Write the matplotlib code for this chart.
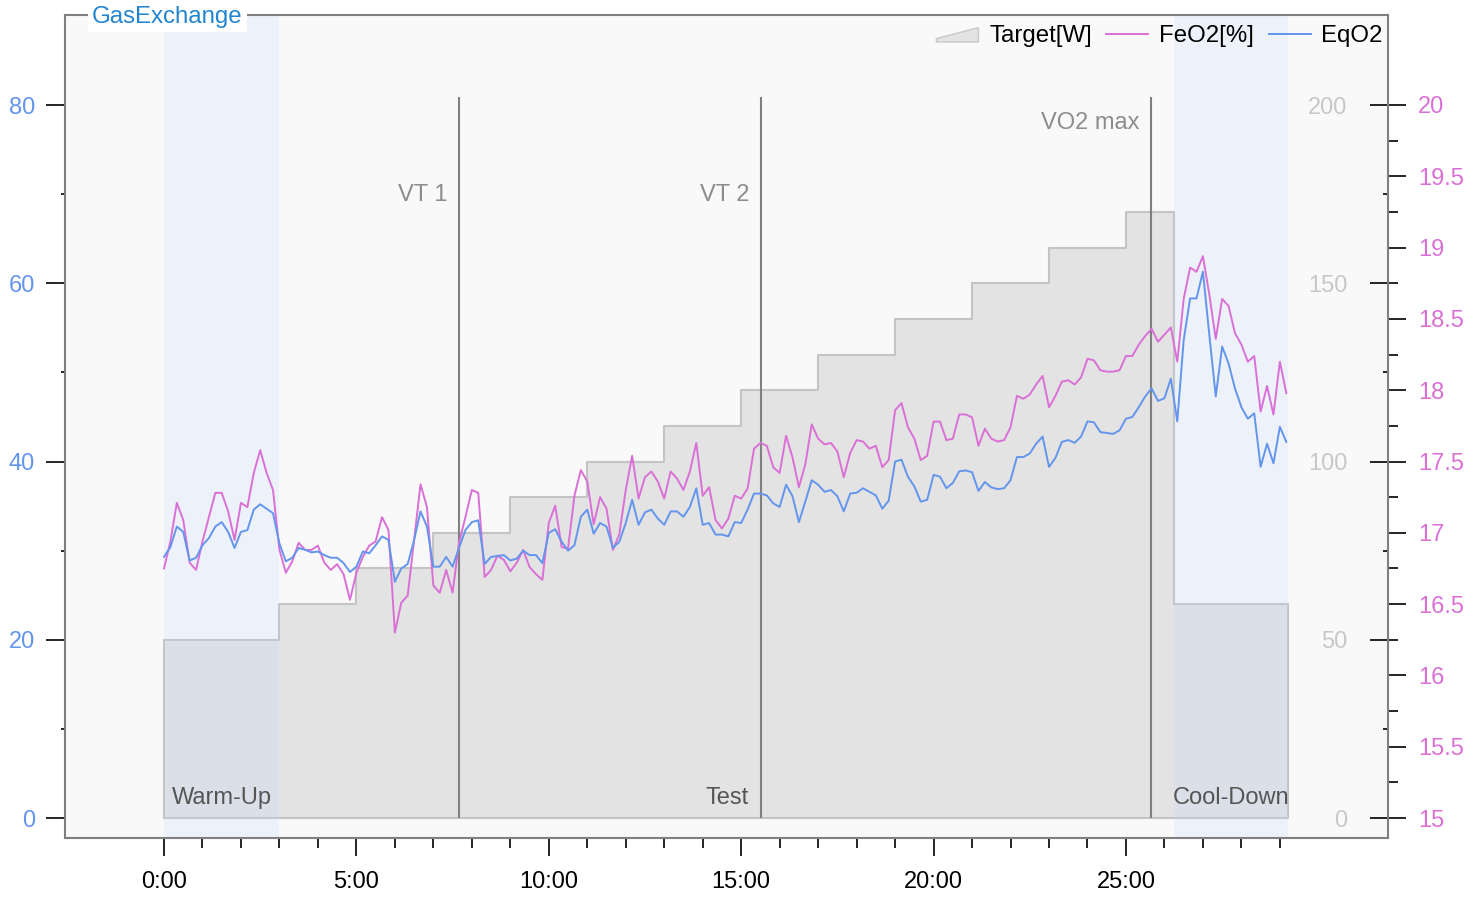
import matplotlib.pyplot as plt
import numpy as np
from matplotlib.legend_handler import HandlerPatch
from matplotlib.lines import Line2D
from matplotlib.patches import Patch, Polygon
from matplotlib.ticker import FixedLocator

plt.rcParams['font.family'] = ['Liberation Sans', 'DejaVu Sans']

# Averaged breath data, one value every 10 s
t_sec = np.arange(0, 1760, 10)
t_min = t_sec / 60.0

feo2 = [
    16.75, 16.94, 17.21, 17.09, 16.79, 16.74, 16.94, 17.11, 17.28, 17.28,
    17.15, 16.95, 17.21, 17.18, 17.42, 17.58, 17.42, 17.30, 16.88, 16.72,
    16.80, 16.93, 16.88, 16.88, 16.91, 16.79, 16.74, 16.78, 16.71, 16.53,
    16.72, 16.83, 16.91, 16.94, 17.11, 17.02, 16.30, 16.51, 16.56, 16.95,
    17.34, 17.18, 16.63, 16.58, 16.74, 16.58, 16.93, 17.11, 17.30, 17.28,
    16.69, 16.74, 16.84, 16.81, 16.73, 16.79, 16.88, 16.76, 16.71, 16.67,
    17.07, 17.19, 16.90, 16.89, 17.26, 17.44, 17.36, 17.06, 17.25, 17.17,
    16.88, 16.99, 17.30, 17.54, 17.24, 17.39, 17.43, 17.36, 17.24, 17.43,
    17.38, 17.30, 17.43, 17.63, 17.26, 17.32, 17.09, 17.03, 17.10, 17.26,
    17.24, 17.31, 17.59, 17.63, 17.61, 17.46, 17.42, 17.68, 17.53, 17.32,
    17.48, 17.76, 17.66, 17.62, 17.63, 17.57, 17.39, 17.56, 17.65, 17.64,
    17.59, 17.61, 17.46, 17.51, 17.86, 17.91, 17.74, 17.66, 17.51, 17.54,
    17.78, 17.78, 17.65, 17.66, 17.83, 17.83, 17.81, 17.61, 17.73, 17.66,
    17.64, 17.65, 17.74, 17.96, 17.94, 17.97, 18.04, 18.10, 17.88, 17.96,
    18.06, 18.07, 18.04, 18.09, 18.22, 18.21, 18.14, 18.13, 18.13, 18.14,
    18.24, 18.24, 18.32, 18.38, 18.43, 18.34, 18.39, 18.44, 18.20, 18.64,
    18.86, 18.83, 18.94, 18.67, 18.36, 18.64, 18.59, 18.40, 18.32, 18.20,
    18.24, 17.85, 18.03, 17.83, 18.20, 17.98,
]

eqo2 = [
    29.3, 30.4, 32.7, 32.1, 28.9, 29.2, 30.6, 31.4, 32.7, 33.2,
    32.1, 30.3, 32.1, 32.3, 34.6, 35.2, 34.7, 34.2, 30.8, 28.8,
    29.2, 30.3, 30.1, 29.8, 29.9, 29.5, 29.2, 29.2, 28.6, 27.6,
    28.2, 29.9, 29.7, 30.6, 31.6, 31.2, 26.5, 28.0, 28.5, 31.2,
    34.4, 32.7, 28.2, 28.2, 29.3, 28.2, 30.3, 32.3, 33.2, 33.4,
    28.5, 29.3, 29.4, 29.5, 28.9, 29.1, 30.0, 29.5, 29.5, 28.6,
    32.0, 32.4, 31.0, 30.0, 30.6, 33.8, 34.6, 31.9, 33.1, 32.7,
    30.3, 31.0, 33.1, 35.7, 32.9, 34.3, 34.6, 33.6, 32.9, 34.4,
    34.4, 33.8, 34.9, 37.0, 32.9, 33.1, 31.8, 31.8, 31.6, 33.2,
    33.1, 34.6, 36.4, 36.4, 36.2, 35.3, 34.9, 37.4, 36.1, 33.2,
    35.5, 37.9, 37.4, 36.6, 36.8, 36.1, 34.4, 36.4, 36.5, 37.0,
    36.6, 36.2, 34.7, 35.6, 40.0, 40.2, 38.3, 37.2, 35.5, 35.7,
    38.5, 38.3, 37.0, 37.6, 38.9, 39.0, 38.8, 36.7, 37.7, 37.1,
    36.9, 37.0, 37.9, 40.5, 40.5, 40.9, 42.0, 42.8, 39.4, 40.4,
    42.2, 42.4, 42.1, 42.8, 44.5, 44.4, 43.3, 43.2, 43.1, 43.5,
    44.8, 45.0, 46.1, 47.3, 48.2, 46.8, 47.1, 49.3, 44.5, 53.6,
    58.3, 58.3, 61.3, 54.2, 47.3, 52.9, 51.0, 48.2, 46.1, 44.8,
    45.4, 39.4, 42.0, 39.8, 43.9, 42.2,
]

# Load protocol (minutes, watts)
stage_start = [0, 3, 5, 7, 9, 11, 13, 15, 17, 19, 21, 23, 25, 26.25]
stage_watts = [50, 60, 70, 80, 90, 100, 110, 120, 130, 140, 150, 160, 170, 60]
stage_end = 29.2

phases = [('Warm-Up', 0, 3), ('Test', 3, 26.25), ('Cool-Down', 26.25, 29.2)]
thresholds = [('VT 1', 7.67), ('VT 2', 15.51), ('VO2 max', 25.65)]

xtick_pos = [0, 5, 10, 15, 20, 25]
xtick_labels = ['0:00', '5:00', '10:00', '15:00', '20:00', '25:00']
feo2_ticks = [15, 15.5, 16, 16.5, 17, 17.5, 18, 18.5, 19, 19.5, 20]
feo2_labels = ['15', '15.5', '16', '16.5', '17', '17.5', '18', '18.5', '19', '19.5', '20']

C_FEO2 = 'orchid'
C_EQO2 = 'cornflowerblue'
C_AREA = '#e3e3e3'
C_AREA_EDGE = '#c4c4c4'
C_GRID = '#808080'

fig = plt.figure(figsize=(14.84, 8.99), dpi=100)
ax = fig.add_axes([65 / 1484, 1 - 838 / 899, 1323 / 1484, 823 / 899])
axw = ax.twinx()
axf = ax.twinx()
ax.set_zorder(3)
axf.set_zorder(2)
axw.set_zorder(1)
ax.patch.set_visible(False)
axw.patch.set_visible(True)
axw.patch.set_facecolor('#f9f9f9')

# target load area
wt = stage_start + [stage_end]
wv = stage_watts + [stage_watts[-1]]
axw.fill_between(wt, 0, wv, step='post', facecolor=C_AREA,
                 edgecolor=C_AREA_EDGE, linewidth=1.5, zorder=1)

# warm-up / cool-down shading
for name, a, b in phases:
    if name != 'Test':
        axw.axvspan(a, b, color=(0.75, 0.84, 1.0), alpha=0.2, lw=0, zorder=2)

for name, x in thresholds:
    axw.vlines(x, 0, 202.3, color=C_GRID, lw=1.5, zorder=3)

axf.plot(t_min, feo2, color=C_FEO2, lw=1.4)
ax.plot(t_min, eqo2, color=C_EQO2, lw=1.4)

ax.set_xlim(-2.573, 31.81)
ax.set_ylim(-2.244, 90.10)
axw.set_ylim(-5.61, 225.25)
axf.set_ylim(14.860, 20.631)

for a in (axw, axf):
    for s in a.spines.values():
        s.set_visible(False)
for s in ax.spines.values():
    s.set_color(C_GRID)
    s.set_linewidth(1.5)

# left axis: EqO2
ax.set_yticks([0, 20, 40, 60, 80])
ax.yaxis.set_minor_locator(FixedLocator([10, 30, 50, 70]))
ax.tick_params(axis='y', which='major', direction='out', length=13.7, width=1.2,
               pad=8, labelsize=17, labelcolor=C_EQO2)
ax.tick_params(axis='y', which='minor', direction='out', length=3, width=1.2)

# x axis
ax.set_xticks(xtick_pos, xtick_labels)
ax.xaxis.set_minor_locator(FixedLocator(list(range(0, 30))))
ax.tick_params(axis='x', which='major', direction='out', length=13, width=1.2,
               pad=11, labelsize=17)
ax.tick_params(axis='x', which='minor', direction='out', length=7.2, width=1.2)

# target axis, ticks and labels inside the right border
axw.yaxis.tick_left()
axw.spines['left'].set_position(('axes', 1.0))
axw.set_yticks([0, 50, 100, 150, 200])
axw.yaxis.set_minor_locator(FixedLocator([25, 75, 125, 175]))
axw.tick_params(axis='y', which='major', direction='out', length=13, width=1.2,
                pad=16, labelsize=17, labelcolor='#c8c8c8')
axw.tick_params(axis='y', which='minor', direction='out', length=3.6, width=1.2)

# right axis: FeO2
axf.set_yticks(feo2_ticks, feo2_labels)
axf.yaxis.set_minor_locator(FixedLocator([v + 0.25 for v in feo2_ticks[:-1]]))
axf.tick_params(axis='y', which='major', direction='out', length=13, width=1.2,
                pad=8.5, labelsize=17, labelcolor=C_FEO2)
axf.tick_params(axis='y', which='minor', direction='out', length=7.2, width=1.2)

# phase names and threshold labels
for name, a, b in phases:
    ax.text((a + b) / 2, 2.3, name, ha='center', va='center', fontsize=17,
            color='#555555')
for name, x in thresholds:
    y = 78.0 if name == 'VO2 max' else 69.9
    ax.text(x - 0.3, y, name, ha='right', va='center', fontsize=17,
            color='#8c8c8c')

ax.text(0.0204, 0.9976, 'GasExchange', transform=ax.transAxes, ha='left',
        va='center', color='#2185d0', fontsize=17.3, zorder=5,
        bbox=dict(facecolor='white', edgecolor='none', pad=3))


def wedge(legend, orig_handle, xdescent, ydescent, width, height, fontsize):
    x0, y0 = -xdescent, -ydescent
    return Polygon([[x0, y0], [x0 + width, y0], [x0 + width, y0 + 0.85 * height],
                    [x0, y0 + 0.2 * height]], closed=True)


handles = [
    Patch(facecolor=C_AREA, edgecolor='#c8c8c8', label='Target[W]'),
    Line2D([], [], color=C_FEO2, lw=1.4, label='FeO2[%]'),
    Line2D([], [], color=C_EQO2, lw=1.4, label='EqO2'),
]
ax.legend(handles=handles, loc='upper right', bbox_to_anchor=(0.9988, 0.9923),
          ncol=3, frameon=False, fontsize=17.3, handlelength=1.75,
          handletextpad=0.45, columnspacing=0.6, borderaxespad=0,
          borderpad=0.15, handler_map={Patch: HandlerPatch(patch_func=wedge)})

fig.savefig('out.png', dpi=100)
